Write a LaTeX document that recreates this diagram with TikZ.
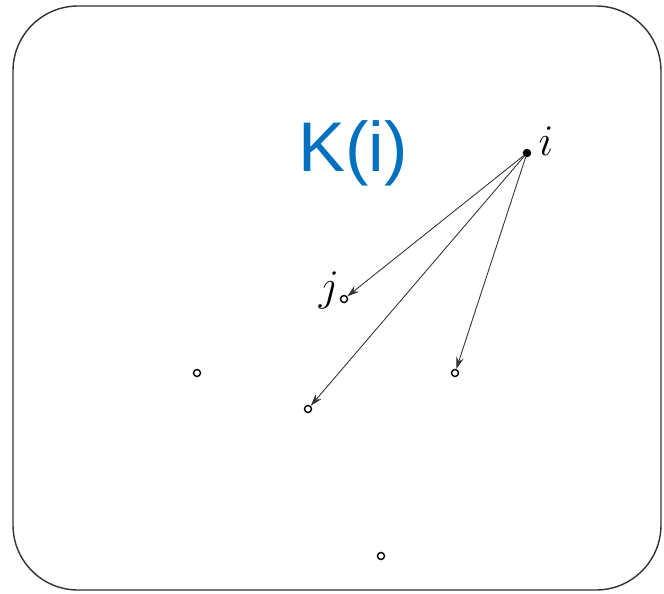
\documentclass[tikz,border=0pt]{standalone}
\usepackage{fontspec}
\usepackage{tikz}
\usetikzlibrary{arrows.meta}
\newfontfamily\labelfont{Liberation Sans}
\definecolor{kblue}{RGB}{0,112,192}

\begin{document}
\begin{tikzpicture}[x=0.02cm, y=-0.02cm,
    pt/.style={circle, draw, line width=0.8pt, inner sep=0pt, minimum size=0.14cm},
    ptfull/.style={pt, fill=black},
    edge/.style={-{Stealth[length=0.24cm, width=0.15cm]}, line width=0.5pt, black!80},
    lbl/.style={font=\fontsize{23}{27}\selectfont}]

        \useasboundingbox (0,0) rectangle (664,593);

        %% ── Cadre ─────────────────────────────────────────────────────────
        \draw[line width=0.8pt, black!80, rounded corners=1.3cm]
            (13,6) rectangle (661,590);

        %% ── Titre ─────────────────────────────────────────────────────────
        \node[kblue, font=\labelfont\fontsize{40}{46}\selectfont] (titre)
            at (353,153) {K(i)};

        %% ── Points ────────────────────────────────────────────────────────
        \node[ptfull] (i) at (527,153) {};
        \node[pt] (j) at (344,299) {};
        \node[pt] (a) at (197,373) {};
        \node[pt] (b) at (308,409) {};
        \node[pt] (c) at (455,373) {};
        \node[pt] (d) at (381,556) {};

        \node[lbl] (li) at (546,141) {$i$};
        \node[lbl] (lj) at (329,290) {$j$};

        %% ── Voisins de i ──────────────────────────────────────────────────
        \draw[edge] (i) -- (j);
        \draw[edge] (i) -- (b);
        \draw[edge] (i) -- (c);

    \end{tikzpicture}
\end{document}
